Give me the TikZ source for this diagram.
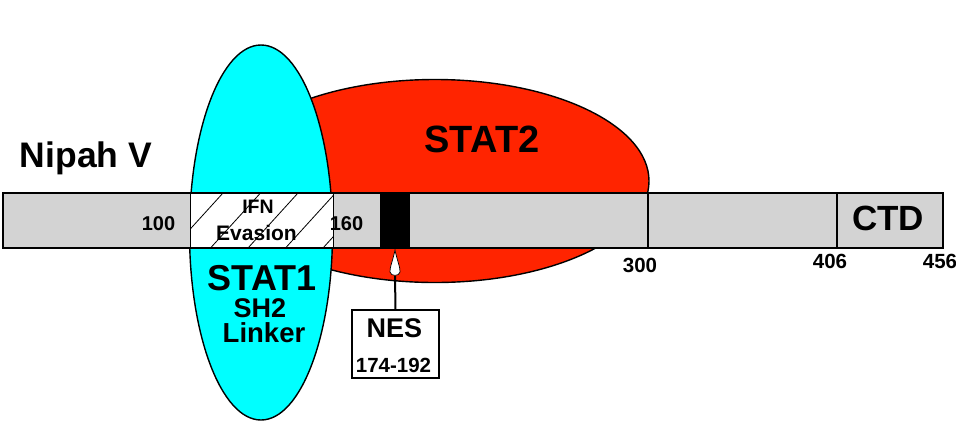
\documentclass[tikz,border=0pt]{standalone}
\usepackage{fontspec}
\setmainfont{Liberation Sans}
\definecolor{statred}{RGB}{255,36,0}
\definecolor{statcyan}{RGB}{0,255,255}
\definecolor{bargray}{RGB}{211,211,211}
\tikzset{
  outline/.style={draw=black, line width=1.4pt},
  lbl/.style={anchor=base, inner sep=0pt, font=\bfseries\fontsize{#1}{#1}\selectfont},
  lbl/.default=20,
}
\begin{document}
\begin{tikzpicture}[x=1pt, y=-1pt]
\useasboundingbox (0,0) rectangle (956,424);

% STAT2 and STAT1 binding domains
\filldraw[fill=statred, outline] (435,181) ellipse [x radius=214, y radius=101.5];
\filldraw[fill=statcyan, outline] (261,232.5) ellipse [x radius=71.5, y radius=187.5];

% protein bar
\fill[bargray] (3,193) rectangle (943,248);
\fill[white] (190,193) rectangle (333,248);
\begin{scope}
  \clip (190,193) rectangle (333,248);
  \foreach \t in {185.5,223,260.5,298,335.5,373}
    \draw[line width=0.8pt] (\t,193) -- (\t-50,248);
\end{scope}
\fill[black] (380,193) rectangle (410,248);
\draw[line width=0.8pt] (190,193) -- (190,248) (333,193) -- (333,248);
\draw[line width=1.2pt] (648,193) -- (648,248) (837,193) -- (837,248);
\draw[outline] (3,193) rectangle (943,248);

% labels
\node[lbl=35.5] (virus) at (86,167) {Nipah V};
\node[lbl=38] (stat2) at (482,152) {STAT2};
\node[lbl=36] (stat1) at (262,290) {STAT1};
\node[lbl=27] (sh2) at (260,317) {SH2};
\node[lbl=27.5] (linker) at (264,342) {Linker};
\node[lbl=19.5] (ifn) at (258,213) {IFN};
\node[lbl=21] (evasion) at (256.5,240) {Evasion};
\node[lbl=20] (n100) at (158.5,230) {100};
\node[lbl=20] (n160) at (346.5,230) {160};
\node[lbl=35] (ctd) at (888,230) {CTD};
\node[lbl=20.5] (n300) at (640,272) {300};
\node[lbl=20.5] (n406) at (830,268) {406};
\node[lbl=20.5] (n456) at (940,268) {456};

% nuclear export signal
\node[draw=black, line width=1.4pt, minimum width=87pt, minimum height=68pt, inner sep=0pt, fill=white] (nes) at (395.5,344) {};
\node[lbl=27] (nestxt) at (394.5,337) {NES};
\node[lbl=20.5] (nesrng) at (393.5,372) {174-192};
\coordinate (nestip) at (395,250);
\coordinate (nesbase) at (395,276);
\draw[line width=2pt] (nes.north) -- (nesbase);
% white tear-drop pointer onto the NES segment
\filldraw[fill=white, draw=black, line width=0.7pt]
  (nestip) .. controls (397,260) and (400.5,268) .. (400,272)
  .. controls (399.5,276.5) and (390.5,276.5) .. (390,272)
  .. controls (389.5,268) and (393,260) .. (nestip) -- cycle;
\end{tikzpicture}
\end{document}
